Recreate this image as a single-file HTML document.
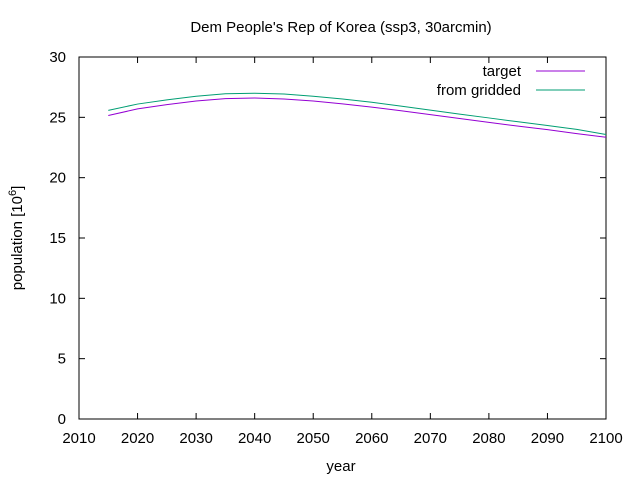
<!DOCTYPE html>
<html><head><meta charset="utf-8"><style>
body{margin:0;background:#fff;}
svg{display:block;font-family:"Liberation Sans","DejaVu Sans",sans-serif;}
</style></head><body>
<svg id="chart" width="640" height="480">
<text x="341" y="32" text-anchor="middle" font-size="15">Dem People's Rep of Korea (ssp3, 30arcmin)</text>
<rect x="79" y="57" width="527" height="362" fill="none" stroke="#000" stroke-width="1"/>
<g id="axes"></g>
<g id="series"></g>
<text x="341" y="471" text-anchor="middle" font-size="15">year</text>
<text transform="translate(22,238) rotate(-90)" text-anchor="middle" font-size="15">population [10<tspan dy="-6" font-size="11">6</tspan><tspan dy="6">]</tspan></text>
<g>
<text x="521" y="76" text-anchor="end" font-size="15">target</text>
<line x1="536" y1="71" x2="585" y2="71" stroke="#9400d3"/>
<text x="521" y="95" text-anchor="end" font-size="15">from gridded</text>
<line x1="536" y1="90" x2="585" y2="90" stroke="#009e73"/>
</g>
</svg>
<script>
const years=[2015,2020,2025,2030,2035,2040,2045,2050,2055,2060,2065,2070,2075,2080,2085,2090,2095,2100];
const target=[25.15,25.7,26.05,26.35,26.55,26.6,26.52,26.35,26.12,25.85,25.55,25.22,24.9,24.58,24.27,23.98,23.65,23.35];
const gridded=[25.58,26.1,26.45,26.75,26.95,27.0,26.93,26.75,26.52,26.25,25.93,25.6,25.27,24.95,24.63,24.32,24.0,23.58];
const xTicks=[2010,2020,2030,2040,2050,2060,2070,2080,2090,2100];
const yTicks=[0,5,10,15,20,25,30];
const NS="http://www.w3.org/2000/svg";
const X=v=>79+(v-2010)/90*527;
const Y=v=>419-v/30*362;
const axes=document.getElementById('axes'),series=document.getElementById('series');
function mk(t,a,p){const e=document.createElementNS(NS,t);for(const k in a)e.setAttribute(k,a[k]);p.appendChild(e);return e;}
xTicks.forEach(t=>{
 const l1=mk('line',{x1:X(t),x2:X(t),y1:419,y2:413,stroke:'#000'},axes);
 
 
 const l2=mk('line',{x1:X(t),x2:X(t),y1:57,y2:63,stroke:'#000'},axes);
 
 
 const tx=mk('text',{x:X(t),y:443,'text-anchor':'middle','font-size':15},axes);
 tx.textContent=t;
 
 
});
yTicks.forEach(t=>{
 const l1=mk('line',{x1:79,x2:85,y1:Y(t),y2:Y(t),stroke:'#000'},axes);
 
 
 const l2=mk('line',{x1:600,x2:606,y1:Y(t),y2:Y(t),stroke:'#000'},axes);
 
 
 const tx=mk('text',{x:66,y:Y(t)+5,'text-anchor':'end','font-size':15},axes);
 tx.textContent=t;
 
 
});
function line(vals,color,name){
 const p=mk('polyline',{points:years.map((y,i)=>X(y)+','+Y(vals[i])).join(' '),fill:'none',stroke:color,'stroke-width':1},series);
 
 
}
line(target,'#9400d3','target-line');
line(gridded,'#009e73','gridded-line');
</script>
</body></html>
